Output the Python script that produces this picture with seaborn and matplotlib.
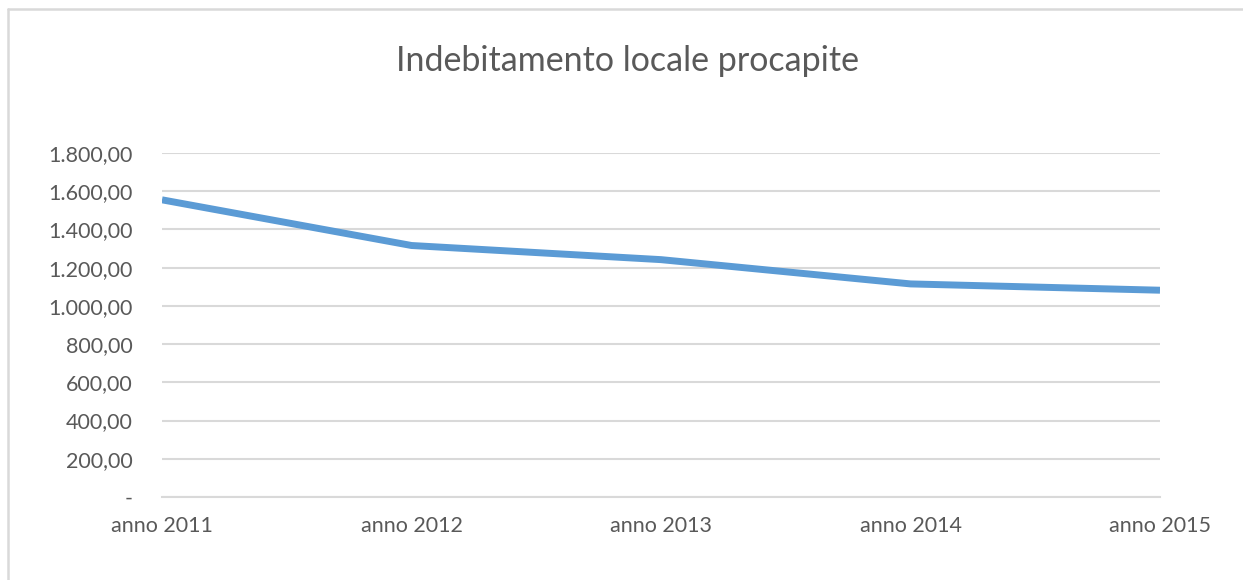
import matplotlib
matplotlib.use("Agg")
import matplotlib.pyplot as plt
from matplotlib.lines import Line2D
from matplotlib.ticker import FuncFormatter
import seaborn as sns
import pandas as pd

anni = ["anno 2011", "anno 2012", "anno 2013", "anno 2014", "anno 2015"]
debito = [1555, 1316, 1242, 1115, 1082]
y_ticks = [0, 200, 400, 600, 800, 1000, 1200, 1400, 1600, 1800]

df = pd.DataFrame({"anno": anni, "debito": debito})

sns.set_style("white")
plt.rcParams["font.family"] = ["Lato", "DejaVu Sans"]

fig = plt.figure(figsize=(12.43, 5.8), dpi=100)
ax = fig.add_axes([162 / 1243, 83 / 580, (1160 - 162) / 1243, (497 - 153) / 580])

sns.lineplot(data=df, x="anno", y="debito", ax=ax, color="#5b9bd5",
             linewidth=5, solid_joinstyle="round", solid_capstyle="butt")


def fmt_it(v, pos):
    if v == 0:
        return "-"
    s = f"{v:,.2f}"
    return s.replace(",", "X").replace(".", ",").replace("X", ".")


ax.set_ylim(0, 1800)
ax.set_yticks(y_ticks)
ax.yaxis.set_major_formatter(FuncFormatter(fmt_it))
ax.set_xlim(0, len(anni) - 1)
ax.grid(axis="y", color="#d9d9d9", linewidth=1.5)
ax.grid(axis="x", visible=False)
ax.set_axisbelow(True)
for side in ["top", "right", "left"]:
    ax.spines[side].set_visible(False)
ax.spines["bottom"].set_color("#d9d9d9")
ax.spines["bottom"].set_linewidth(1.5)
ax.set_xlabel("")
ax.set_ylabel("")
ax.tick_params(axis="y", length=0, pad=21, labelsize=15.5, labelcolor="#595959")
ax.tick_params(axis="x", length=0, pad=14, labelsize=15.5, labelcolor="#595959")

fig.text(627 / 1243, 1 - 61 / 580, "Indebitamento locale procapite",
         ha="center", va="center", fontsize=24.5, color="#595959")

# bordo del grafico
fig.add_artist(Line2D([7.5 / 1243, 7.5 / 1243], [0, 1 - 9 / 580],
                      color="#d9d9d9", linewidth=1.8, transform=fig.transFigure))
fig.add_artist(Line2D([7.5 / 1243, 1], [1 - 9 / 580, 1 - 9 / 580],
                      color="#d9d9d9", linewidth=1.8, transform=fig.transFigure))

fig.savefig("out.png", dpi=100)
